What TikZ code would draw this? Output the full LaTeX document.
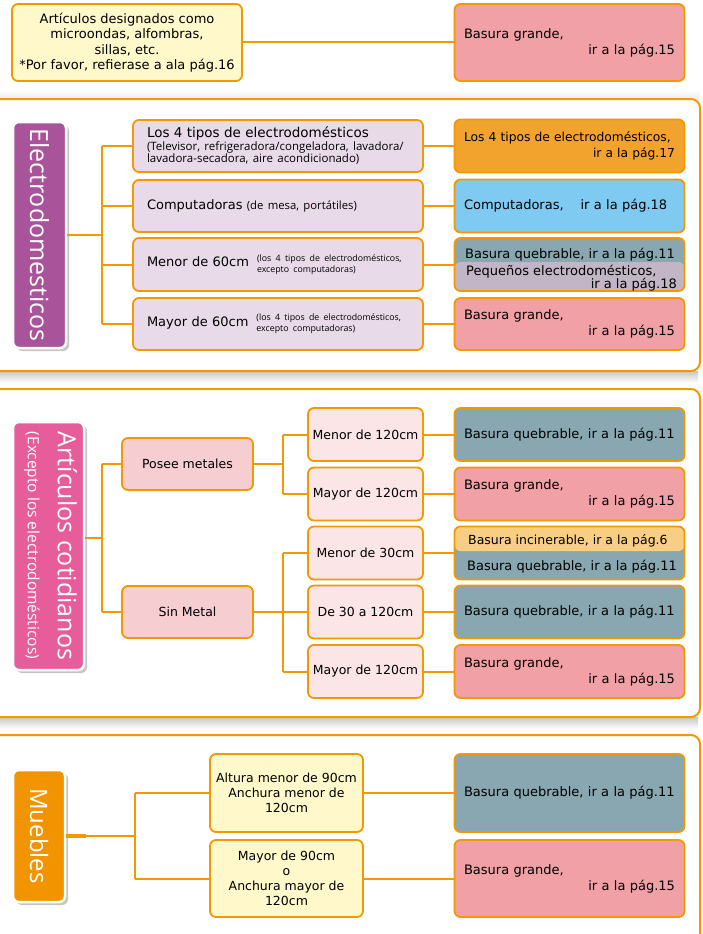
\documentclass[tikz,border=0pt]{standalone}
\usepackage{fontspec}
\setmainfont{DejaVu Sans}
\newfontfamily\lab{Open Sans}
\newfontfamily\thin{Open Sans}
\usetikzlibrary{shadows}
\definecolor{OR}{HTML}{F39800}
\definecolor{yel}{HTML}{FFF8CA}
\definecolor{pk}{HTML}{F1A0A5}
\definecolor{purp}{HTML}{A9539B}
\definecolor{lpurp}{HTML}{E9DAE9}
\definecolor{org}{HTML}{F2A32E}
\definecolor{blu}{HTML}{7FCAF0}
\definecolor{tl}{HTML}{88A7B1}
\definecolor{gp}{HTML}{C2B6C6}
\definecolor{pnk}{HTML}{E75D9B}
\definecolor{pm}{HTML}{F6CDD0}
\definecolor{lp}{HTML}{FBE5E6}
\definecolor{yo}{HTML}{F8CE85}
\definecolor{mo}{HTML}{F29300}
\begin{document}
\begin{tikzpicture}[x=1pt,y=-1pt,
  box/.style={draw=OR, line width=1.8pt, rounded corners=6pt, inner sep=0pt, align=center, font=\fontsize{13}{16}\selectfont},
  rbox/.style={box, minimum width=230pt, text width=211pt, align=left},
  conn/.style={draw=OR, line width=2pt},
  lbl/.style={draw=white, line width=2.5pt, rounded corners=6pt, inner sep=0pt, text=white, drop shadow={shadow xshift=3pt, shadow yshift=-3pt, fill=black!50, opacity=0.45}, font=\lab\fontsize{24}{28}\selectfont},
  frm/.style={draw=OR, line width=2pt, rounded corners=9pt, fill=white},
  sh/.style={top color=black!22, bottom color=white, draw=none}]
\useasboundingbox (0,0) rectangle (702,934);
\fill[white] (0,0) rectangle (702,934);

% ---------- top row
\node[box, fill=yel, minimum width=230pt, minimum height=77pt, font=\fontsize{13}{15.5}\selectfont] (A0) at (127,42.5)
  {Artículos designados como\\microondas, alfombras,\\sillas, etc.\\*Por favor, refierase a ala pág.16};
\node[rbox, fill=pk, minimum height=77pt] (B0) at (569.5,42.5) {Basura grande,\\\hspace*{\fill}ir a la pág.15};
\draw[conn] (A0.east) -- (B0.west);

% ---------- frames
\shade[top color=white, bottom color=black!8] (0,90) rectangle (700,99);
\shade[sh] (0,371) rectangle (698,383);
\draw[frm] (-10,99) rectangle (700,371);
\shade[sh] (0,717) rectangle (698,729);
\draw[frm] (-10,389) rectangle (700,717);
\draw[frm] (-10,735) rectangle (700,960);

% ---------- Electrodomesticos
\node[lbl, fill=purp, minimum width=53pt, minimum height=226pt, font=\lab\fontsize{25}{28}\selectfont] (E) at (39.5,235) {\rotatebox{-90}{Electrodomesticos}};
\node[box, fill=lpurp, minimum width=290pt, minimum height=52pt, text width=262pt, align=left] (L1) at (278,146)
  {{\fontsize{13.5}{14}\selectfont Los 4 tipos de electrodomésticos\par}{\thin\fontsize{11.5}{12.5}\selectfont (Televisor, refrigeradora/congeladora, lavadora/\\lavadora-secadora, aire acondicionado)\par}};
\node[box, fill=lpurp, minimum width=290pt, minimum height=52pt, text width=262pt, align=left] (L2) at (278,206)
  {Computadoras {\thin\fontsize{11.3}{13}\selectfont (de mesa, portátiles)}};
\node[box, fill=lpurp, minimum width=290pt, minimum height=53pt, text width=262pt, align=left] (L3) at (278,264.5)
  {Menor de 60cm\hspace{8pt}{\thin\fontsize{8.8}{11}\selectfont\begin{tabular}{@{}l@{}}(los 4 tipos de electrodomésticos,\\excepto computadoras)\end{tabular}}};
\node[box, fill=lpurp, minimum width=290pt, minimum height=52pt, text width=262pt, align=left] (L4) at (278,324)
  {Mayor de 60cm\hspace{8pt}{\thin\fontsize{8.8}{11}\selectfont\begin{tabular}{@{}l@{}}(los 4 tipos de electrodomésticos,\\excepto computadoras)\end{tabular}}};

\node[rbox, fill=org, minimum height=53pt, font=\fontsize{12.3}{16}\selectfont] (R1) at (569.5,146) {Los 4 tipos de electrodomésticos,\\\hspace*{\fill}ir a la pág.17};
\node[rbox, fill=blu, minimum height=53pt] (R2) at (569.5,206) {Computadoras,\hspace{1.3em}ir a la pág.18};
\node[box, fill=tl, minimum width=230pt, minimum height=53pt, path picture={\fill[gp] ([yshift=2.5pt]path picture bounding box.west) rectangle (path picture bounding box.south east);}] (R3) at (569.5,264.5) {};
\node[anchor=base west, inner sep=0pt, font=\fontsize{13}{16}\selectfont] (R3a) at (465,258) {Basura quebrable, ir a la pág.11};
\node[anchor=base west, inner sep=0pt, font=\fontsize{13}{16}\selectfont] (R3b) at (466,275) {Pequeños electrodomésticos,};
\node[anchor=base east, inner sep=0pt, font=\fontsize{13}{16}\selectfont] (R3c) at (677,288) {ir a la pág.18};
\node[rbox, fill=pk, minimum height=52pt] (R4) at (569.5,324) {Basura grande,\\\hspace*{\fill}ir a la pág.15};

\coordinate (e2) at (102,235);
\draw[conn] (E.east) -- (e2);
\draw[conn] (e2 |- L1.west) -- (e2 |- L4.west);
\foreach \n in {L1,L2,L3,L4} \draw[conn] (e2 |- \n.west) -- (\n.west);
\draw[conn] (L1.east) -- (R1.west);
\draw[conn] (L2.east) -- (R2.west);
\draw[conn] (L3.east) -- (R3.west);
\draw[conn] (L4.east) -- (R4.west);

% ---------- Articulos cotidianos
\node[lbl, fill=pnk, minimum width=71pt, minimum height=248pt] (A) at (48.5,546)
  {\rotatebox{-90}{\begin{tabular}{@{}l@{}}\fontsize{25}{28}\selectfont Artículos cotidianos\\[2pt]\fontsize{15.5}{17}\selectfont (Excepto los electrodomésticos)\end{tabular}}};
\node[box, fill=pm, minimum width=131pt, minimum height=52pt, font=\fontsize{12.5}{15}\selectfont] (P) at (187.5,464) {Posee metales};
\node[box, fill=pm, minimum width=131pt, minimum height=52pt, font=\fontsize{12.5}{15}\selectfont] (S) at (187.5,612) {Sin Metal};
\tikzset{tbox/.style={box, fill=lp, minimum width=115pt, minimum height=53pt, font=\fontsize{12.5}{15}\selectfont}}
\node[tbox] (T1) at (365.5,434.5) {Menor de 120cm};
\node[tbox] (T2) at (365.5,494) {Mayor de 120cm};
\node[tbox] (T3) at (365.5,553) {Menor de 30cm};
\node[tbox] (T4) at (365.5,612) {De 30 a 120cm};
\node[tbox] (T5) at (365.5,671.5) {Mayor de 120cm};

\node[rbox, fill=tl, minimum height=53pt] (U1) at (569.5,434.5) {Basura quebrable, ir a la pág.11};
\node[rbox, fill=pk, minimum height=53pt] (U2) at (569.5,494) {Basura grande,\\\hspace*{\fill}ir a la pág.15};
\node[box, fill=tl, minimum width=230pt, minimum height=53pt, path picture={\fill[yo] ([yshift=2pt]path picture bounding box.west) rectangle (path picture bounding box.north east);}] (U3) at (569.5,553) {};
\node[anchor=base west, inner sep=0pt, font=\fontsize{12.5}{16}\selectfont] (U3a) at (468,544) {Basura incinerable, ir a la pág.6};
\node[anchor=base west, inner sep=0pt, font=\fontsize{13}{16}\selectfont] (U3b) at (467,570) {Basura quebrable, ir a la pág.11};
\node[rbox, fill=tl, minimum height=53pt] (U4) at (569.5,612) {Basura quebrable, ir a la pág.11};
\node[rbox, fill=pk, minimum height=53pt] (U5) at (569.5,671.5) {Basura grande,\\\hspace*{\fill}ir a la pág.15};

\coordinate (a3) at (102,538);
\coordinate (p3) at (283,538);
\draw[conn] (A.east |- a3) -- (a3);
\draw[conn] (a3 |- P.west) -- (a3 |- S.west);
\draw[conn] (a3 |- P.west) -- (P.west);
\draw[conn] (a3 |- S.west) -- (S.west);
\draw[conn] (P.east) -- (p3 |- P.east);
\draw[conn] (p3 |- T1.west) -- (p3 |- T2.west);
\draw[conn] (S.east) -- (p3 |- S.east);
\draw[conn] (p3 |- T3.west) -- (p3 |- T5.west);
\foreach \n in {T1,T2,T3,T4,T5} \draw[conn] (p3 |- \n.west) -- (\n.west);
\draw[conn] (T1.east) -- (U1.west);
\draw[conn] (T2.east) -- (U2.west);
\draw[conn] (T3.east) -- (U3.west);
\draw[conn] (T4.east) -- (U4.west);
\draw[conn] (T5.east) -- (U5.west);

% ---------- Muebles
\node[lbl, fill=mo, minimum width=52pt, minimum height=132pt] (M) at (39,836) {\rotatebox{-90}{Muebles}};
\node[box, fill=yel, minimum width=153pt, minimum height=78pt, font=\fontsize{12.5}{15}\selectfont] (F1) at (286.5,793) {Altura menor de 90cm\\Anchura menor de\\120cm};
\node[box, fill=yel, minimum width=153pt, minimum height=77pt, font=\fontsize{12.5}{15}\selectfont] (F2) at (286.5,878.5) {Mayor de 90cm\\o\\Anchura mayor de\\120cm};
\node[rbox, fill=tl, minimum height=78pt] (G1) at (569.5,793) {Basura quebrable, ir a la pág.11};
\node[rbox, fill=pk, minimum height=77pt] (G2) at (569.5,878.5) {Basura grande,\\\hspace*{\fill}ir a la pág.15};
\coordinate (m4) at (135,836);
\draw[conn, line width=3.5pt] (M.east) -- ++(20,0);
\draw[conn] (M.east) -- (m4);
\draw[conn] (m4 |- F1.west) -- (m4 |- F2.west);
\draw[conn] (m4 |- F1.west) -- (F1.west);
\draw[conn] (m4 |- F2.west) -- (F2.west);
\draw[conn] (F1.east) -- (G1.west);
\draw[conn] (F2.east) -- (G2.west);
\end{tikzpicture}
\end{document}
